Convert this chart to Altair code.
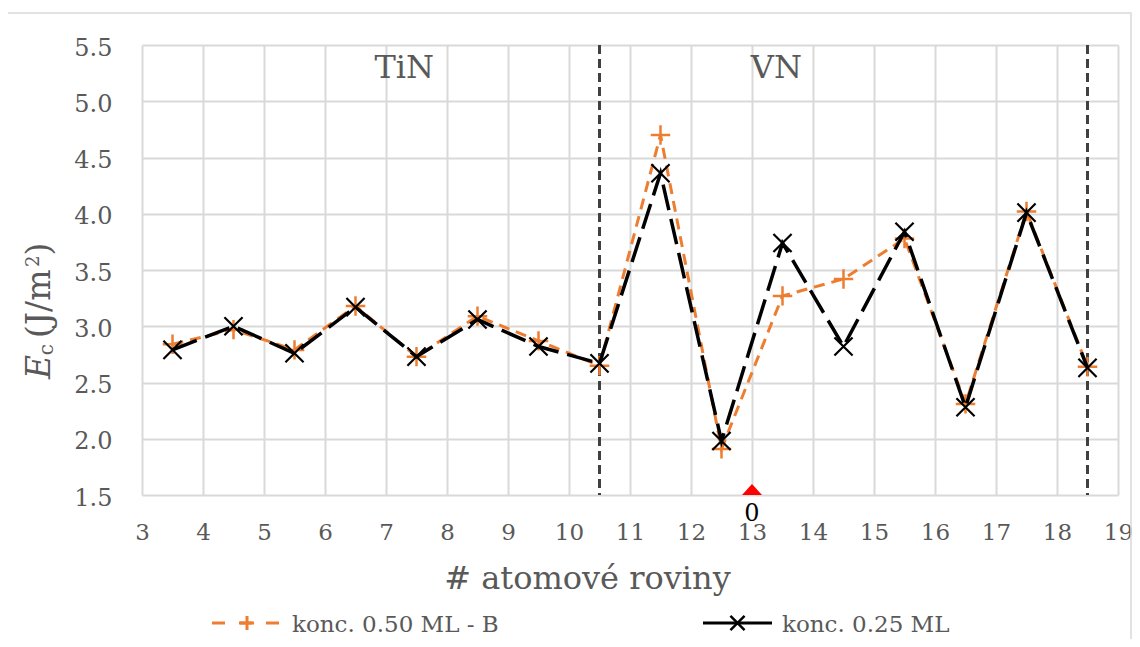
import altair as alt
import pandas as pd

FONT = "DejaVu Serif"
GRAY = "#595959"
ORANGE = "#ED7D31"

# ---- data ----
x_planes = [3.5, 4.5, 5.5, 6.5, 7.5, 8.5, 9.5, 10.5, 11.5, 12.5, 13.5, 14.5, 15.5, 16.5, 17.5, 18.5]
e_050_B = [2.84, 2.97, 2.79, 3.18, 2.73, 3.09, 2.87, 2.65, 4.70, 1.91, 3.27, 3.42, 3.78, 2.31, 4.02, 2.64]
e_025 = [2.79, 3.00, 2.76, 3.17, 2.73, 3.06, 2.82, 2.67, 4.36, 1.98, 3.74, 2.82, 3.84, 2.28, 4.01, 2.63]
series_names = ["konc. 0.50 ML - B", "konc. 0.25 ML"]

x_ticks = list(range(3, 20))
y_ticks = [1.5, 2.0, 2.5, 3.0, 3.5, 4.0, 4.5, 5.0, 5.5]

boundary_x = [10.5, 18.5]
region_labels = ["TiN", "VN"]
region_x = [7.3, 13.4]
region_y = [5.21, 5.21]

marker_x = [13]
marker_y = [1.5]
marker_text = ["0"]

x_title = "# atomové roviny"

# ---- tables ----
df_o = pd.DataFrame({"x": x_planes, "y": e_050_B})
df_b = pd.DataFrame({"x": x_planes, "y": e_025})
df_bound = pd.DataFrame({"x": boundary_x})
df_reg = pd.DataFrame({"x": region_x, "y": region_y, "t": region_labels})
df_mark = pd.DataFrame({"x": marker_x, "y": marker_y, "t": marker_text})

W, H = 976, 450

xscale = alt.Scale(domain=[3, 19], nice=False, zero=False)
yscale = alt.Scale(domain=[1.5, 5.5], nice=False, zero=False)

xaxis = alt.Axis(values=x_ticks, format="d", grid=True, gridColor="#d9d9d9", gridWidth=2,
                 domain=False, ticks=False, tickSize=0, labelFont=FONT, labelFontSize=23,
                 labelColor=GRAY, labelPadding=26, labelFlush=False,
                 title=x_title, titleFont=FONT, titleFontSize=32, titleFontWeight="normal",
                 titleColor=GRAY, titleX=445, titleY=93, titleBaseline="alphabetic",
                 titleAlign="center")
yaxis = alt.Axis(values=y_ticks, format=".1f", grid=True, gridColor="#d9d9d9", gridWidth=2,
                 domain=False, ticks=False, tickSize=0, labelFont=FONT, labelFontSize=24,
                 labelColor=GRAY, labelPadding=30, labelFlush=False, labelOffset=3, title=None)


def X(field="x"):
    return alt.X(f"{field}:Q", scale=xscale, axis=xaxis)


def Y(field="y"):
    return alt.Y(f"{field}:Q", scale=yscale, axis=yaxis)


PLUS = "M-1,0L1,0M0,-1L0,1"
CROSS = "M-1,-1L1,1M-1,1L1,-1"
TRI = "M-1,0L1,0L0,-1.1Z"

bounds = alt.Chart(df_bound).mark_rule(color="#404040", strokeWidth=3, strokeDash=[9, 5]).encode(x=X())

line_o = alt.Chart(df_o).mark_line(color=ORANGE, strokeWidth=3, strokeDash=[11, 7]).encode(x=X(), y=Y())
pts_o = alt.Chart(df_o).mark_point(shape=PLUS, size=380, filled=False, stroke=ORANGE,
                                   strokeWidth=2.5, opacity=1).encode(x=X(), y=Y())
line_b = alt.Chart(df_b).mark_line(color="black", strokeWidth=3.5, strokeDash=[26, 9]).encode(x=X(), y=Y())
pts_b = alt.Chart(df_b).mark_point(shape=CROSS, size=330, filled=False, stroke="black",
                                   strokeWidth=2.2, opacity=1).encode(x=X(), y=Y())

regions = alt.Chart(df_reg).mark_text(font=FONT, fontSize=32, color=GRAY, align="center",
                                      baseline="alphabetic").encode(x=X(), y=Y(), text="t:N")

tri = alt.Chart(df_mark).mark_point(shape=TRI, size=400, filled=True, fill="red",
                                    strokeWidth=0, opacity=1).encode(x=X(), y=Y())
tri_lbl = alt.Chart(df_mark).mark_text(font=FONT, fontSize=24, color="black", align="center",
                                       baseline="top", dy=7).encode(x=X(), y=Y(), text="t:N")

# ---- legend (drawn by hand) ----
one = pd.DataFrame({"a": [0]})
leg_o_line = alt.Chart(one).mark_rule(color=ORANGE, strokeWidth=3, strokeDash=[13, 14]).encode(
    x=alt.value(70), x2=alt.value(140), y=alt.value(578))
leg_o_pt = alt.Chart(one).mark_point(shape=PLUS, size=200, filled=False, stroke=ORANGE,
                                     strokeWidth=3, opacity=1).encode(x=alt.value(105), y=alt.value(578))
leg_o_txt = alt.Chart(one).mark_text(font=FONT, fontSize=23, color=GRAY, align="left",
                                     baseline="middle").encode(
    x=alt.value(150), y=alt.value(580), text=alt.value(series_names[0]))
leg_b_line = alt.Chart(one).mark_rule(color="black", strokeWidth=3).encode(
    x=alt.value(561), x2=alt.value(630), y=alt.value(578))
leg_b_pt = alt.Chart(one).mark_point(shape=CROSS, size=200, filled=False, stroke="black",
                                     strokeWidth=2.5, opacity=1).encode(x=alt.value(595.5), y=alt.value(578))
leg_b_txt = alt.Chart(one).mark_text(font=FONT, fontSize=23, color=GRAY, align="left",
                                     baseline="middle").encode(
    x=alt.value(640), y=alt.value(580), text=alt.value(series_names[1]))

# ---- y-axis title E_c (J/m^2) built from pieces ----
FS = 33
base_x = -92
y0 = 334
w_E = 0.72 * FS
w_c = 0.56 * 20
w_mid = (0.39 + 0.47 + 0.34 + 0.95) * FS
w_2 = 0.64 * 18
pieces = [
    ("E", FS, "italic", base_x, y0),
    ("c", 20, "normal", base_x + 3, y0 - w_E),
    ("(J/m", FS, "normal", base_x, y0 - w_E - w_c - 6),
    ("2", 18, "normal", base_x - 11, y0 - w_E - w_c - 6 - w_mid),
    (")", FS, "normal", base_x, y0 - w_E - w_c - 6 - w_mid - w_2),
]
title_layers = []
for txt, fs, style, px, py in pieces:
    title_layers.append(
        alt.Chart(one).mark_text(font=FONT, fontSize=fs, fontStyle=style, color=GRAY, angle=270,
                                 align="left", baseline="alphabetic").encode(
            x=alt.value(px), y=alt.value(py), text=alt.value(txt)))

frame = alt.Chart(one).mark_rect(filled=False, stroke="#d9d9d9", strokeWidth=1.5).encode(
    x=alt.value(-135), x2=alt.value(989), y=alt.value(-32), y2=alt.value(700))

chart = alt.layer(
    frame, bounds, line_o, pts_o, line_b, pts_b, regions, tri, tri_lbl,
    leg_o_line, leg_o_pt, leg_o_txt, leg_b_line, leg_b_pt, leg_b_txt, *title_layers
).properties(
    width=W, height=H,
    autosize=alt.AutoSizeParams(type="none"),
    padding={"left": 134, "top": 37, "right": 14, "bottom": 144},
    background="white",
).configure_view(stroke=None)

chart.save("out.html", embed_options={"renderer": "svg", "actions": False})
